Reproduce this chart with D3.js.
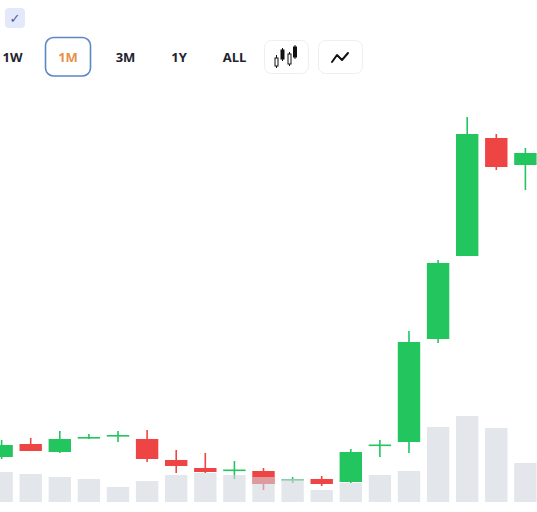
<!DOCTYPE html>
<html>
<head>
<meta charset="utf-8">
<script src="https://cdn.jsdelivr.net/npm/d3@7"></script>
<style>
  html, body { margin: 0; padding: 0; background: #fff; }
  svg { display: block; font-family: "Open Sans", "Noto Sans", sans-serif; }
</style>
</head>
<body>
<div id="chart"></div>
<script>
// days shown in the 1M view
const days = ['05-01', '05-02', '05-03', '05-04', '05-05', '05-06', '05-07', '05-08', '05-09', '05-10',
    '05-11', '05-12', '05-13', '05-14', '05-15', '05-16', '05-17', '05-18', '05-19'];
const openPrice = [0.43, 0.56, 0.48, 0.62, 0.64, 0.61, 0.40, 0.32, 0.295, 0.29,
    0.20, 0.21, 0.18, 0.545, 0.58, 1.61, 2.44, 3.62, 3.35];
const closePrice = [0.55, 0.49, 0.61, 0.63, 0.65, 0.41, 0.34, 0.28, 0.305, 0.16,
    0.21, 0.16, 0.48, 0.555, 1.58, 2.37, 3.66, 3.33, 3.47];
const highPrice = [0.60, 0.62, 0.69, 0.66, 0.69, 0.70, 0.50, 0.47, 0.39, 0.32,
    0.23, 0.24, 0.51, 0.60, 1.69, 2.40, 3.83, 3.66, 3.52];
const lowPrice = [0.41, 0.49, 0.47, 0.61, 0.58, 0.38, 0.27, 0.27, 0.21, 0.10,
    0.17, 0.14, 0.17, 0.43, 0.47, 1.57, 2.44, 3.30, 3.10];
const volume = [30, 28, 25, 23, 15, 21, 27, 29, 27, 25, 23, 12, 19, 27, 31, 75, 86, 74, 39];
const ranges = ['1W', '1M', '3M', '1Y', 'ALL'];
const activeRange = '1M';

const W = 537, H = 512;
const UP = '#22c55e', DOWN = '#ef4444';

const svg = d3.select('#chart').append('svg').attr('width', W).attr('height', H);

// checkbox
svg.append('rect').attr('x', 5).attr('y', 8).attr('width', 20).attr('height', 20)
    .attr('rx', 4).attr('fill', '#e3e9fb');
svg.append('text').attr('x', 15).attr('y', 22.5).attr('text-anchor', 'middle')
    .attr('font-size', 13).attr('fill', '#4b5ca8').attr('font-family', 'DejaVu Sans')
    .text('✓');

// range buttons
const rangeX = d3.scalePoint().domain(ranges).range([12.5, 234.5]);
rangeX.domain().forEach(function (r, i) {
    const cx = rangeX(r) + (i === 2 ? 2 : 0);
    if (r === activeRange) {
        svg.append('rect').attr('x', cx - 22.5).attr('y', 37.5).attr('width', 45).attr('height', 38.5)
            .attr('rx', 8).attr('fill', '#fff').attr('stroke', '#5b87c2').attr('stroke-width', 1.6);
    }
    svg.append('text').attr('x', cx).attr('y', 61.5).attr('text-anchor', 'middle')
        .attr('font-size', 13).attr('font-weight', 700)
        .attr('fill', r === activeRange ? '#e8914a' : '#1f2330')
        .text(r);
});

// chart type buttons
svg.append('rect').attr('x', 264.5).attr('y', 40.5).attr('width', 44).attr('height', 33)
    .attr('rx', 7).attr('fill', '#fff').attr('stroke', '#eceef1');
svg.append('rect').attr('x', 318.5).attr('y', 40.5).attr('width', 44).attr('height', 33)
    .attr('rx', 7).attr('fill', '#fff').attr('stroke', '#eceef1');

const icon = svg.append('g').attr('stroke', '#111').attr('stroke-width', 1);
[[276.5, 58, 66, 55, 68, false], [282.5, 50, 59, 48, 61, true], [289.5, 54, 64, 52, 66, false], [295, 47, 57, 45, 59, true]]
    .forEach(function (c) {
        icon.append('line').attr('x1', c[0]).attr('x2', c[0]).attr('y1', c[3]).attr('y2', c[4]);
        icon.append('rect').attr('x', c[0] - 1.5).attr('y', c[1]).attr('width', 3).attr('height', c[2] - c[1])
            .attr('fill', c[5] ? '#111' : '#fff');
    });
svg.append('path').attr('d', 'M332,62 L337,55 L342,60 L348,53')
    .attr('fill', 'none').attr('stroke', '#111').attr('stroke-width', 2)
    .attr('stroke-linejoin', 'round').attr('stroke-linecap', 'round');

// scales
const x = d3.scaleBand().domain(days).range([-12.5, 539.5]).paddingInner(0.23).paddingOuter(0.1);
const y = d3.scaleLinear().domain([0, 4]).range([500, 100]);
const yv = d3.scaleLinear().domain([0, 100]).range([502, 402]);

const candles = days.map(function (d, i) {
    return { day: d, o: openPrice[i], c: closePrice[i], h: highPrice[i], l: lowPrice[i], v: volume[i] };
});

const cg = svg.append('g');
const g = cg.selectAll('g').data(candles).enter().append('g');
g.append('line')
    .attr('x1', d => x(d.day) + x.bandwidth() / 2)
    .attr('x2', d => x(d.day) + x.bandwidth() / 2)
    .attr('y1', d => y(d.h))
    .attr('y2', d => y(d.l))
    .attr('stroke', d => (d.c >= d.o ? UP : DOWN))
    .attr('stroke-width', 1.6);
g.append('rect')
    .attr('x', d => x(d.day))
    .attr('width', x.bandwidth())
    .attr('y', d => y(Math.max(d.o, d.c)))
    .attr('height', d => Math.max(1.6, Math.abs(y(d.o) - y(d.c))))
    .attr('fill', d => (d.c >= d.o ? UP : DOWN));

// volume on top, semi transparent
svg.append('g').selectAll('rect').data(candles).enter().append('rect')
    .attr('x', d => x(d.day))
    .attr('width', x.bandwidth())
    .attr('y', d => yv(d.v))
    .attr('height', d => yv(0) - yv(d.v))
    .attr('fill', 'rgb(209,213,222)')
    .attr('fill-opacity', 0.6);
</script>
</body>
</html>
